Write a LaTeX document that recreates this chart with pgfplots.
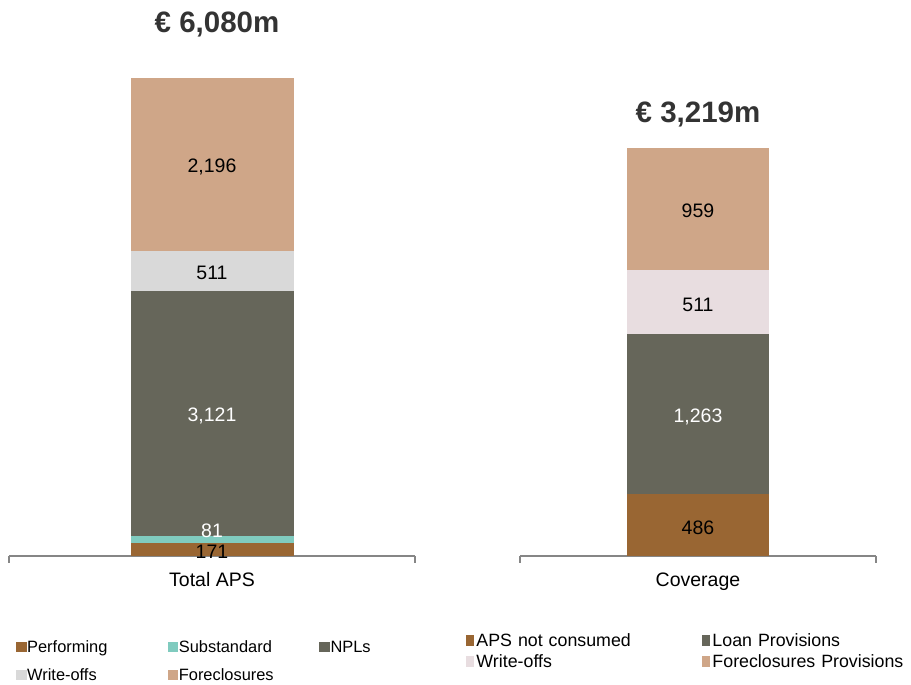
\documentclass[border=0pt]{standalone}
\usepackage{fontspec}
\setmainfont{Liberation Sans}
\usepackage{pgfplots}
\pgfplotsset{compat=1.18}
\definecolor{perf}{HTML}{996633}
\definecolor{subst}{HTML}{80CBBF}
\definecolor{npl}{HTML}{66665A}
\definecolor{woff}{HTML}{D9D9D9}
\definecolor{forec}{HTML}{CFA688}
\definecolor{woffp}{HTML}{E8DDE0}
\definecolor{axisgray}{HTML}{868686}
\definecolor{titlegray}{HTML}{333333}
\tikzset{
  lab/.style={font=\fontsize{19.5}{23}\selectfont, anchor=center, yshift=-2.5pt},
  ttl/.style={font=\bfseries\fontsize{29.5}{33}\selectfont, text=titlegray, anchor=base},
}
\pgfplotsset{
  common/.style={
    scale only axis, anchor=south west,
    xmin=-0.5, xmax=0.5, ymin=0,
    ybar stacked,
    axis y line=none, axis x line*=bottom,
    x axis line style={draw=axisgray, line width=1.3pt, -},
    every outer x axis line/.append style={-},
    xtick={0},
    major tick length=0pt,
    extra x ticks={-0.5,0.5}, extra x tick labels={},
    extra x tick style={major tick length=7pt, tick align=outside, tick style={draw=axisgray, line width=1.3pt}},
    ticklabel style={font=\fontsize{19.5}{23}\selectfont, text=black},
    xticklabel style={yshift=-13pt},
    clip=false,
    legend cell align=left,
  },
}
\begin{document}
\begin{tikzpicture}[x=1pt,y=1pt]
\useasboundingbox (0,0) rectangle (911,685);
% ---------------- Left: Total APS ----------------
\begin{axis}[common,
  at={(9pt,129pt)}, width=406pt, height=478pt,
  ymax=6080, bar width=163pt,
  xticklabels={Total APS},
  legend columns=3,
  legend image code/.code={\fill[#1] (0pt,-3.5pt) rectangle (10.7pt,7.2pt);},
  legend style={at={(0.0172,-0.1764)}, anchor=north west, draw=none, fill=none,
    inner sep=0pt, outer sep=0pt, row sep=11pt, column sep=0pt,
    font=\fontsize{16.4}{19}\selectfont,
    nodes={inner xsep=0.5pt, inner ysep=0.5pt, text width=140pt, align=left, text height=12pt, text depth=4pt}},
]
\addplot[fill=perf, draw=none] coordinates {(0,171)};
\addplot[fill=subst, draw=none] coordinates {(0,81)};
\addplot[fill=npl, draw=none] coordinates {(0,3121)};
\addplot[fill=woff, draw=none] coordinates {(0,511)};
\addplot[fill=forec, draw=none] coordinates {(0,2196)};
\legend{Performing, Substandard, NPLs, Write-offs, Foreclosures}
\coordinate (a1) at (axis cs:0,85.5);
\coordinate (a2) at (axis cs:0,357);
\coordinate (a3) at (axis cs:0,1812);
\coordinate (a4) at (axis cs:0,3628);
\coordinate (a5) at (axis cs:0,4982);
\coordinate (at) at (axis cs:0,6080);
\end{axis}
\node[lab, text=black] at (a1) {171};
\node[lab, text=white] at (a2) {81};
\node[lab, text=white] at (a3) {3,121};
\node[lab, text=black] at (a4) {511};
\node[lab, text=black] at (a5) {2,196};
\node[ttl, yshift=45pt, xshift=5pt] at (at) {€ 6,080m};
% ---------------- Right: Coverage ----------------
\begin{axis}[common,
  at={(520pt,129pt)}, width=356pt, height=408pt,
  ymax=3219, bar width=142pt,
  xticklabels={Coverage},
  legend columns=2,
  legend image code/.code={\fill[#1] (0pt,-3.5pt) rectangle (8pt,7.5pt); \path (10pt,0pt);},
  legend style={at={(-0.1517,-0.1888)}, anchor=north west, draw=none, fill=none,
    inner sep=0pt, outer sep=0pt, row sep=3pt, column sep=0pt,
    font=\fontsize{17.8}{20}\selectfont,
    nodes={inner xsep=0.5pt, inner ysep=0.5pt, text width=225pt, align=left, text height=13pt, text depth=4pt}},
]
\addplot[fill=perf, draw=none] coordinates {(0,486)};
\addplot[fill=npl, draw=none] coordinates {(0,1263)};
\addplot[fill=woffp, draw=none] coordinates {(0,511)};
\addplot[fill=forec, draw=none] coordinates {(0,959)};
\legend{APS not consumed, Loan Provisions, Write-offs, Foreclosures Provisions}
\coordinate (b1) at (axis cs:0,243);
\coordinate (b2) at (axis cs:0,1117.5);
\coordinate (b3) at (axis cs:0,2004.5);
\coordinate (b4) at (axis cs:0,2739.5);
\coordinate (bt) at (axis cs:0,3219);
\end{axis}
\node[lab, text=black] at (b1) {486};
\node[lab, text=white] at (b2) {1,263};
\node[lab, text=black] at (b3) {511};
\node[lab, text=black] at (b4) {959};
\node[ttl, yshift=25pt] at (bt) {€ 3,219m};
\end{tikzpicture}
\end{document}
